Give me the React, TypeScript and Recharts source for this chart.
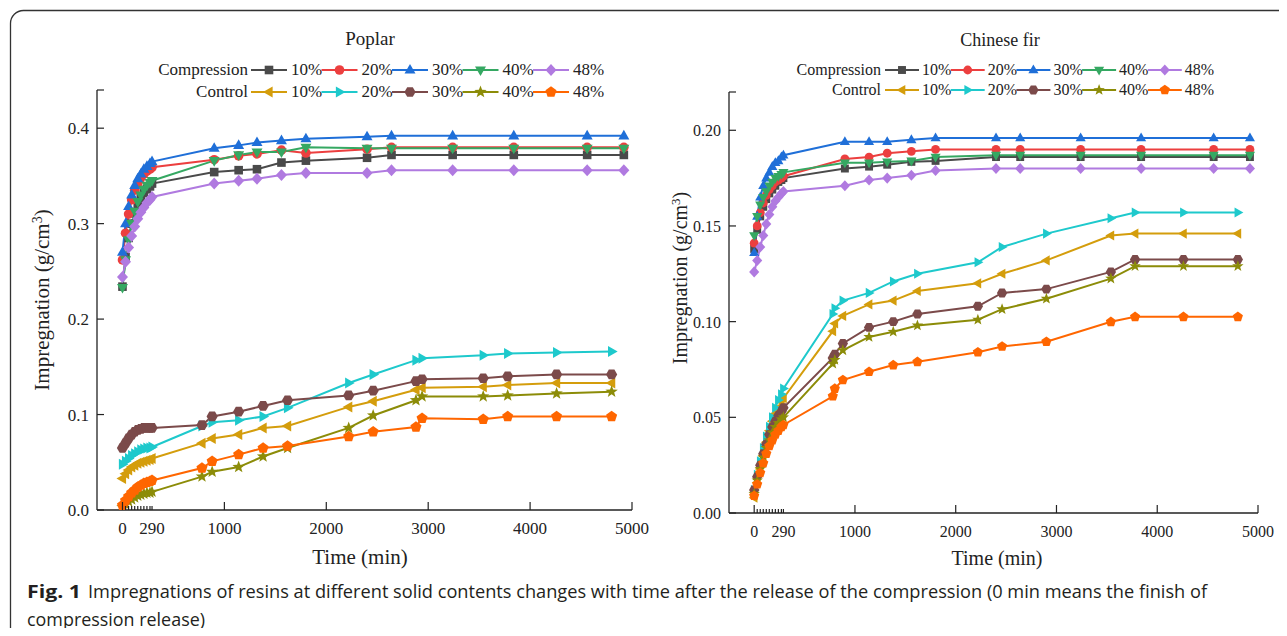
import React from "react";
import { LineChart, Line, XAxis, YAxis } from "recharts";

// time points (min)
const earlyTimes = [0, 30, 60, 90, 120, 150, 180, 210, 240, 270, 290];
const compLateTimes = [900, 1140, 1320, 1560, 1800, 2400, 2640, 3240, 3840, 4560, 4920];
const poplarCtrlLateTimes = [780, 880, 1140, 1380, 1620, 2220, 2460, 2880, 2940, 3540, 3780, 4260, 4800];
const firCtrlLateTimes = [780, 800, 880, 1140, 1380, 1620, 2220, 2460, 2900, 3540, 3780, 4260, 4800];

const levels = ["10%", "20%", "30%", "40%", "48%"];

// Poplar, compression
const poplarComp10 = [0.234, 0.265, 0.285, 0.3, 0.312, 0.32, 0.327, 0.332, 0.336, 0.339, 0.342, 0.354, 0.356, 0.357, 0.364, 0.366, 0.369, 0.372, 0.372, 0.372, 0.372, 0.372];
const poplarComp20 = [0.262, 0.29, 0.31, 0.325, 0.335, 0.342, 0.348, 0.352, 0.355, 0.357, 0.359, 0.367, 0.371, 0.373, 0.377, 0.374, 0.378, 0.38, 0.38, 0.38, 0.38, 0.38];
const poplarComp30 = [0.27, 0.3, 0.318, 0.33, 0.34, 0.347, 0.352, 0.357, 0.36, 0.363, 0.365, 0.379, 0.382, 0.385, 0.387, 0.389, 0.391, 0.392, 0.392, 0.392, 0.392, 0.392];
const poplarComp40 = [0.233, 0.262, 0.283, 0.3, 0.313, 0.323, 0.33, 0.336, 0.34, 0.343, 0.345, 0.366, 0.372, 0.375, 0.375, 0.38, 0.379, 0.379, 0.379, 0.379, 0.379, 0.379];
const poplarComp48 = [0.244, 0.26, 0.275, 0.287, 0.297, 0.305, 0.312, 0.317, 0.322, 0.325, 0.328, 0.342, 0.345, 0.347, 0.351, 0.353, 0.353, 0.356, 0.356, 0.356, 0.356, 0.356];

// Poplar, control
const poplarCtrl10 = [0.033, 0.038, 0.042, 0.045, 0.047, 0.049, 0.05, 0.051, 0.052, 0.053, 0.054, 0.07, 0.075, 0.079, 0.086, 0.088, 0.108, 0.114, 0.126, 0.128, 0.129, 0.131, 0.133, 0.133];
const poplarCtrl20 = [0.048, 0.051, 0.054, 0.057, 0.059, 0.061, 0.063, 0.064, 0.065, 0.065, 0.066, 0.088, 0.092, 0.094, 0.098, 0.107, 0.133, 0.142, 0.157, 0.159, 0.162, 0.164, 0.165, 0.166];
const poplarCtrl30 = [0.065, 0.07, 0.075, 0.079, 0.082, 0.084, 0.085, 0.086, 0.086, 0.086, 0.086, 0.089, 0.098, 0.103, 0.109, 0.115, 0.12, 0.125, 0.135, 0.137, 0.138, 0.14, 0.142, 0.142];
const poplarCtrl40 = [0.003, 0.006, 0.009, 0.011, 0.013, 0.015, 0.016, 0.017, 0.018, 0.018, 0.019, 0.035, 0.04, 0.045, 0.056, 0.065, 0.086, 0.099, 0.115, 0.119, 0.119, 0.12, 0.122, 0.124];
const poplarCtrl48 = [0.005, 0.01, 0.014, 0.018, 0.021, 0.024, 0.026, 0.028, 0.029, 0.03, 0.031, 0.044, 0.051, 0.058, 0.065, 0.067, 0.077, 0.082, 0.087, 0.096, 0.095, 0.098, 0.098, 0.098];

// Chinese fir, compression
const firComp10 = [0.138, 0.148, 0.155, 0.16, 0.164, 0.167, 0.169, 0.171, 0.173, 0.174, 0.175, 0.18, 0.181, 0.182, 0.1835, 0.184, 0.186, 0.186, 0.186, 0.186, 0.186, 0.186];
const firComp20 = [0.141, 0.15, 0.157, 0.162, 0.166, 0.169, 0.171, 0.173, 0.174, 0.175, 0.176, 0.185, 0.186, 0.188, 0.189, 0.19, 0.19, 0.19, 0.19, 0.19, 0.19, 0.19];
const firComp30 = [0.136, 0.155, 0.165, 0.171, 0.175, 0.178, 0.181, 0.183, 0.184, 0.186, 0.187, 0.194, 0.194, 0.194, 0.195, 0.196, 0.196, 0.196, 0.196, 0.196, 0.196, 0.196];
const firComp40 = [0.145, 0.155, 0.161, 0.165, 0.168, 0.171, 0.173, 0.175, 0.176, 0.177, 0.178, 0.183, 0.183, 0.1835, 0.184, 0.186, 0.187, 0.187, 0.187, 0.187, 0.187, 0.187];
const firComp48 = [0.126, 0.132, 0.139, 0.145, 0.151, 0.156, 0.16, 0.163, 0.165, 0.167, 0.168, 0.171, 0.174, 0.175, 0.1765, 0.179, 0.18, 0.18, 0.18, 0.18, 0.18, 0.18];

// Chinese fir, control
const firCtrl10 = [0.008, 0.016, 0.023, 0.03, 0.037, 0.043, 0.048, 0.052, 0.055, 0.058, 0.06, 0.095, 0.099, 0.103, 0.109, 0.111, 0.116, 0.12, 0.125, 0.132, 0.145, 0.146, 0.146, 0.146];
const firCtrl20 = [0.012, 0.02, 0.027, 0.034, 0.04, 0.045, 0.05, 0.055, 0.059, 0.062, 0.065, 0.104, 0.107, 0.111, 0.115, 0.121, 0.125, 0.131, 0.139, 0.146, 0.154, 0.157, 0.157, 0.157];
const firCtrl30 = [0.012, 0.019, 0.025, 0.031, 0.036, 0.041, 0.045, 0.048, 0.051, 0.053, 0.055, 0.081, 0.083, 0.0886, 0.097, 0.1, 0.104, 0.108, 0.115, 0.117, 0.126, 0.1325, 0.1325, 0.1325];
const firCtrl40 = [0.01, 0.017, 0.023, 0.029, 0.034, 0.038, 0.042, 0.045, 0.047, 0.049, 0.05, 0.078, 0.08, 0.085, 0.092, 0.0947, 0.098, 0.101, 0.1065, 0.112, 0.1225, 0.129, 0.129, 0.129];
const firCtrl48 = [0.009, 0.015, 0.021, 0.026, 0.031, 0.035, 0.038, 0.041, 0.043, 0.045, 0.046, 0.061, 0.065, 0.0695, 0.0738, 0.0773, 0.079, 0.084, 0.087, 0.0895, 0.0999, 0.1025, 0.1025, 0.1025];

const xTicks = [0, 30, 60, 90, 120, 150, 180, 210, 240, 270, 290, 1000, 2000, 3000, 4000, 5000];
const xMajor = [0, 1000, 2000, 3000, 4000, 5000];
const xLabeled = [0, 290, 1000, 2000, 3000, 4000, 5000];
const poplarYTicks = [0, 0.1, 0.2, 0.3, 0.4];
const firYTicks = [0, 0.05, 0.1, 0.15, 0.2];

const compStyle = [
  { color: "#4a4a4a", shape: "square" },
  { color: "#ec3f3f", shape: "circle" },
  { color: "#1f6fd8", shape: "triUp" },
  { color: "#35a862", shape: "triDown" },
  { color: "#b07ae0", shape: "diamond" },
];
const ctrlStyle = [
  { color: "#d49d0c", shape: "triLeft" },
  { color: "#1ec9cc", shape: "triRight" },
  { color: "#7b4a4a", shape: "hexagon" },
  { color: "#8c8c08", shape: "star" },
  { color: "#ff6600", shape: "pentagon" },
];

const SERIF = "'Liberation Serif', 'Times New Roman', serif";
const SANS = "'Open Sans', 'Noto Sans', sans-serif";
const INK = "#222";

function poly(n: number, r: number, rot: number) {
  const pts: string[] = [];
  for (let i = 0; i < n; i++) {
    const a = rot + (i * 2 * Math.PI) / n;
    pts.push(`${(r * Math.cos(a)).toFixed(2)},${(r * Math.sin(a)).toFixed(2)}`);
  }
  return pts.join(" ");
}

function starPts(ro: number, ri: number) {
  const pts: string[] = [];
  for (let i = 0; i < 10; i++) {
    const r = i % 2 === 0 ? ro : ri;
    const a = -Math.PI / 2 + (i * Math.PI) / 5;
    pts.push(`${(r * Math.cos(a)).toFixed(2)},${(r * Math.sin(a)).toFixed(2)}`);
  }
  return pts.join(" ");
}

function Marker({ cx, cy, shape, color, s = 1 }: any) {
  if (cx == null || cy == null) return null;
  let el: any;
  switch (shape) {
    case "square": el = <rect x={-4.3} y={-4.3} width={8.6} height={8.6} />; break;
    case "circle": el = <circle r={4.8} />; break;
    case "triUp": el = <polygon points="0,-6 5.5,3.6 -5.5,3.6" />; break;
    case "triDown": el = <polygon points="0,6 5.5,-3.6 -5.5,-3.6" />; break;
    case "diamond": el = <polygon points="0,-6 5.5,0 0,6 -5.5,0" />; break;
    case "triLeft": el = <polygon points="-6,0 3.6,-5.5 3.6,5.5" />; break;
    case "triRight": el = <polygon points="6,0 -3.6,-5.5 -3.6,5.5" />; break;
    case "hexagon": el = <polygon points={poly(6, 5.6, 0)} />; break;
    case "star": el = <polygon points={starPts(6.5, 2.7)} />; break;
    default: el = <polygon points={poly(5, 5.8, -Math.PI / 2)} />;
  }
  return (
    <g transform={`translate(${cx},${cy}) scale(${s})`} fill={color} stroke="none">
      {el}
    </g>
  );
}

function build(times: number[], vals: number[]) {
  return times.map((t, i) => ({ t, v: vals[i] }));
}

function XTick({ x, y, payload, fs }: any) {
  const v = payload.value;
  const len = xMajor.includes(v) ? 8 : 4;
  return (
    <g>
      <line x1={x} x2={x} y1={y} y2={y - len} stroke={INK} strokeWidth={1.2} />
      {xLabeled.includes(v) && (
        <text x={x} y={y + 24} textAnchor="middle" fontSize={fs} fontFamily={SERIF} fill={INK}>
          {v}
        </text>
      )}
    </g>
  );
}

function YTick({ x, y, payload, digits, fs }: any) {
  return (
    <g>
      <line x1={x} x2={x + 7} y1={y} y2={y} stroke={INK} strokeWidth={1.2} />
      <text x={x - 8} y={y + 6} textAnchor="end" fontSize={fs} fontFamily={SERIF} fill={INK}>
        {payload.value.toFixed(digits)}
      </text>
    </g>
  );
}

function Panel({ width, margin, yMax, yTicks, digits, comp, ctrl, compTimes, ctrlTimes, fs, s }: any) {
  return (
    <LineChart width={width} height={636} margin={margin}>
      <XAxis
        dataKey="t"
        type="number"
        domain={[-250, 5000]}
        ticks={xTicks}
        interval={0}
        tickSize={0}
        tickMargin={0}
        tickLine={false}
        height={30}
        axisLine={{ stroke: INK, strokeWidth: 1.3 }}
        tick={(p: any) => <XTick {...p} fs={fs} />}
        allowDataOverflow
      />
      <YAxis
        type="number"
        domain={[0, yMax]}
        ticks={[...yTicks, yMax]}
        interval={0}
        tickSize={0}
        tickMargin={0}
        tickLine={false}
        width={60}
        axisLine={{ stroke: INK, strokeWidth: 1.3 }}
        tick={(p: any) =>
          p.payload.value === yMax ? (
            <line x1={p.x} x2={p.x + 7} y1={p.y} y2={p.y} stroke={INK} strokeWidth={1.2} />
          ) : (
            <YTick {...p} digits={digits} fs={fs} />
          )
        }
        allowDataOverflow
      />
      {ctrl.map((vals: number[], i: number) => (
        <Line
          key={`k${i}`}
          data={build(ctrlTimes, vals)}
          dataKey="v"
          type="linear"
          stroke={ctrlStyle[i].color}
          strokeWidth={2}
          isAnimationActive={false}
          dot={(p: any) => <Marker key={`kd${i}-${p.index}`} cx={p.cx} cy={p.cy} shape={ctrlStyle[i].shape} color={ctrlStyle[i].color} s={s} />}
        />
      ))}
      {comp.map((vals: number[], i: number) => (
        <Line
          key={`c${i}`}
          data={build(compTimes, vals)}
          dataKey="v"
          type="linear"
          stroke={compStyle[i].color}
          strokeWidth={2}
          isAnimationActive={false}
          dot={(p: any) => <Marker key={`cd${i}-${p.index}`} cx={p.cx} cy={p.cy} shape={compStyle[i].shape} color={compStyle[i].color} s={s} />}
        />
      ))}
    </LineChart>
  );
}

function LegendBlock({ labelRight, y1, y2, x0, step, lineLen, textOff, fs, s }: any) {
  const row = (styles: any[], y: number, label: string) => (
    <g>
      <text x={labelRight} y={y + 5} textAnchor="end" fontSize={fs} fontFamily={SERIF} fill={INK}>
        {label}
      </text>
      {styles.map((st, i) => {
        const x = x0 + i * step;
        return (
          <g key={i}>
            <line x1={x} x2={x + lineLen} y1={y} y2={y} stroke={st.color} strokeWidth={2} />
            <Marker cx={x + lineLen / 2} cy={y} shape={st.shape} color={st.color} s={s} />
            <text x={x + textOff} y={y + 5} fontSize={fs} fontFamily={SERIF} fill={INK}>
              {levels[i]}
            </text>
          </g>
        );
      })}
    </g>
  );
  return (
    <g>
      {row(compStyle, y1, "Compression")}
      {row(ctrlStyle, y2, "Control")}
    </g>
  );
}

export default function App() {
  return (
    <div style={{ position: "relative", width: 1287, height: 636, margin: -8, overflow: "hidden", background: "#fff" }}>
      <div style={{ position: "absolute", left: 0, top: 0 }}>
        <Panel
          width={660}
          margin={{ top: 90, right: 28, bottom: 96, left: 37 }}
          yMax={0.44}
          yTicks={poplarYTicks}
          digits={1}
          comp={[poplarComp10, poplarComp20, poplarComp30, poplarComp40, poplarComp48]}
          ctrl={[poplarCtrl10, poplarCtrl20, poplarCtrl30, poplarCtrl40, poplarCtrl48]}
          compTimes={[...earlyTimes, ...compLateTimes]}
          ctrlTimes={[...earlyTimes, ...poplarCtrlLateTimes]}
          fs={17}
          s={1}
        />
      </div>
      <div style={{ position: "absolute", left: 660, top: 0 }}>
        <Panel
          width={627}
          margin={{ top: 92, right: 29, bottom: 93, left: 9 }}
          yMax={0.22}
          yTicks={firYTicks}
          digits={2}
          comp={[firComp10, firComp20, firComp30, firComp40, firComp48]}
          ctrl={[firCtrl10, firCtrl20, firCtrl30, firCtrl40, firCtrl48]}
          compTimes={[...earlyTimes, ...compLateTimes]}
          ctrlTimes={[...earlyTimes, ...firCtrlLateTimes]}
          fs={16}
          s={0.92}
        />
      </div>
      <svg width={1287} height={636} style={{ position: "absolute", left: 0, top: 0, pointerEvents: "none" }}>
        <rect x={10.5} y={10.5} width={1320} height={700} rx={13} fill="none" stroke="#333" strokeWidth={1.3} />
        <text x={370} y={45} textAnchor="middle" fontSize={19} fontFamily={SERIF} fill={INK}>Poplar</text>
        <text x={1000} y={46} textAnchor="middle" fontSize={18} fontFamily={SERIF} fill={INK}>Chinese fir</text>
        <LegendBlock labelRight={248} y1={70} y2={92} x0={251} step={70.5} lineLen={36} textOff={40} fs={17} s={1} />
        <LegendBlock labelRight={881} y1={70} y2={90} x0={885} step={65.7} lineLen={34} textOff={37} fs={16} s={0.92} />
        <text transform="translate(49,300) rotate(-90)" textAnchor="middle" fontSize={21} fontFamily={SERIF} fill={INK}>
          Impregnation (g/cm<tspan baselineShift="super" fontSize={14}>3</tspan>)
        </text>
        <text transform="translate(687,278) rotate(-90)" textAnchor="middle" fontSize={20} fontFamily={SERIF} fill={INK}>
          Impregnation (g/cm<tspan baselineShift="super" fontSize={13}>3</tspan>)
        </text>
        <text x={360} y={564} textAnchor="middle" fontSize={21} fontFamily={SERIF} fill={INK}>Time (min)</text>
        <text x={997} y={565} textAnchor="middle" fontSize={20} fontFamily={SERIF} fill={INK}>Time (min)</text>
        <text x={27} y={598} fontSize={18} fontFamily={SANS} fill="#231f20">
          <tspan fontWeight="bold" textLength={54} lengthAdjust="spacingAndGlyphs">Fig. 1</tspan>
          <tspan x={88} textLength={1119} lengthAdjust="spacingAndGlyphs">
            Impregnations of resins at different solid contents changes with time after the release of the compression (0 min means the finish of
          </tspan>
        </text>
        <text x={27} y={626} fontSize={18} fontFamily={SANS} fill="#231f20" textLength={178} lengthAdjust="spacingAndGlyphs">
          compression release)
        </text>
      </svg>
    </div>
  );
}
